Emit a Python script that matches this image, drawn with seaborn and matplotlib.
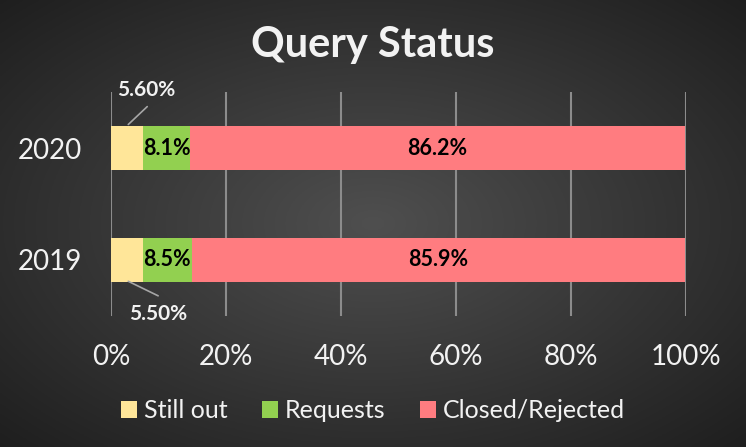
import numpy as np
import pandas as pd
import matplotlib
matplotlib.use('Agg')
import matplotlib.pyplot as plt
from matplotlib.patches import Patch
import seaborn as sns

# ── DATA ──────────────────────────────────────────────────────────────
years      = ['2020', '2019']
still_out  = [5.6, 5.5]
requests   = [8.1, 8.5]
closed     = [86.2, 85.9]
series     = ['Still out', 'Requests', 'Closed/Rejected']
colors     = ['#FFE699', '#92D050', '#FF7C80']
xticks     = [0, 20, 40, 60, 80, 100]
xticklabels = ['0%', '20%', '40%', '60%', '80%', '100%']

df = pd.DataFrame({'year': years, 'still': still_out,
                   'req': requests, 'closed': closed})
df['cum_req'] = df['still'] + df['req']
df['cum_closed'] = df['cum_req'] + df['closed']

# ── STYLE ─────────────────────────────────────────────────────────────
sns.set_theme(style='dark')
plt.rcParams['font.family'] = ['Lato', 'DejaVu Sans']
TXT = '#f2f2f2'

fig = plt.figure(figsize=(7.46, 4.47), dpi=100)

# radial dark background
bg = fig.add_axes([0, 0, 1, 1], zorder=-10)
gx, gy = np.meshgrid(np.linspace(-1, 1, 400), np.linspace(-1, 1, 240))
r = np.sqrt(gx**2 + gy**2) / np.sqrt(2)
shade = 0.31 - 0.19 * r
bg.imshow(np.dstack([shade, shade, shade]), aspect='auto',
          extent=[0, 1, 0, 1])
bg.set_axis_off()

ax = fig.add_axes([0.1488, 0.2931, 0.7708, 0.501])
ax.set_facecolor('none')

# stacked bars drawn back-to-front
for col, c in zip(['cum_closed', 'cum_req', 'still'], colors[::-1]):
    sns.barplot(data=df, x=col, y='year', color=c, width=0.4,
                saturation=1, linewidth=0, ax=ax, zorder=3)

ax.set_xlim(0, 100)
ax.set_ylim(1.5, -0.5)
ax.set_xticks(xticks)
ax.set_xticklabels(xticklabels)
ax.tick_params(axis='x', colors=TXT, labelsize=20, pad=20, length=0)
ax.tick_params(axis='y', colors=TXT, labelsize=20, pad=21, length=0)
ax.set_xlabel(''); ax.set_ylabel('')
ax.grid(axis='x', color='#8c8c8c', linewidth=1.5, zorder=0)
ax.grid(axis='y', visible=False)
ax.set_axisbelow(True)
for s in ax.spines.values():
    s.set_visible(False)

# segment labels
for i, row in df.iterrows():
    ax.text(row['still'] + row['req'] / 2, i, f"{row['req']:.1f}%",
            ha='center', va='center', fontsize=15.5, fontweight='bold',
            color='black', zorder=5)
    ax.text(row['cum_req'] + row['closed'] / 2, i, f"{row['closed']:.1f}%",
            ha='center', va='center', fontsize=15.5, fontweight='bold',
            color='black', zorder=5)

# still-out labels with leader lines
ax.plot([3.0, 6.3], [-0.21, -0.37], color='#a6a6a6', lw=1.2,
        clip_on=False, zorder=4)
ax.text(6.1, -0.52, f"{still_out[0]:.2f}%", ha='center', va='center',
        fontsize=15, fontweight='bold', color=TXT, clip_on=False)
ax.plot([3.0, 8.2], [1.19, 1.32], color='#a6a6a6', lw=1.2,
        clip_on=False, zorder=4)
ax.text(8.2, 1.48, f"{still_out[1]:.2f}%", ha='center', va='center',
        fontsize=15, fontweight='bold', color=TXT, clip_on=False)

fig.text(0.5, 0.900, 'Query Status', ha='center', va='center',
         fontsize=30, fontweight='bold', color=TXT)

handles = [Patch(facecolor=c, edgecolor='none') for c in colors]
fig.legend(handles, series, loc='center', bbox_to_anchor=(0.5, 0.081),
           ncol=3, frameon=False, fontsize=18, labelcolor=TXT,
           handlelength=0.64, handleheight=0.64, handletextpad=0.3,
           columnspacing=1.35)

fig.savefig('out.png', dpi=100)
